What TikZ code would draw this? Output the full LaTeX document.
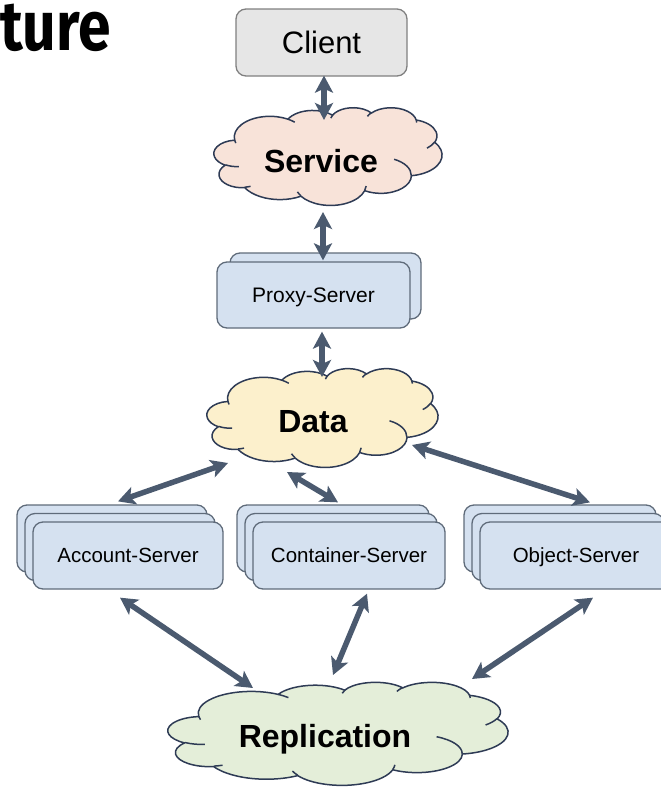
\documentclass[tikz,border=0pt]{standalone}
\usepackage{fontspec}
\setmainfont{Liberation Sans}
\newfontfamily\titlefont{Fira Sans}[FakeStretch=0.84]
\usetikzlibrary{arrows.meta,calc}

\definecolor{linkcol}{HTML}{4B5A6F}
\definecolor{cloudedge}{HTML}{2E3B55}
\definecolor{servfill}{HTML}{F8E3D9}
\definecolor{datafill}{HTML}{FCF0CC}
\definecolor{replfill}{HTML}{E4EED9}
\definecolor{boxfill}{HTML}{D5E1F0}
\definecolor{boxedge}{HTML}{5F6B7A}
\definecolor{clientfill}{HTML}{E6E6E6}
\definecolor{clientedge}{HTML}{808080}

% elliptical arc given by radii, visual start angle and sweep (degrees)
\newcommand\ooarc[4]{arc[x radius=#1, y radius=#2, start angle={ooa(#3,#1,#2)}, delta angle={oosw(#3,#4,#1,#2)}]}

% puffy cloud outline in a frame of 432 x 432 units, placed at (#1,#2) with size #3 x #4
\newcommand\puffcloud[5]{%
  \begin{scope}[shift={(#1,#2)}, x={#3/432*1pt}, y={-#4/432*1pt}]
    \filldraw[cloudstroke, fill=#5] (39,143.7)
      \ooarc{67.53}{91.90}{-190.48748}{123.78053}
      \ooarc{53.33}{72.67}{-144.10238}{89.94523}
      \ooarc{43.65}{59.45}{-145.80792}{99.72302}
      \ooarc{48.57}{65.95}{-130.98607}{117.24173}
      \ooarc{53.33}{72.73}{-78.70888}{109.02692}
      \ooarc{67.75}{92.20}{-46.26725}{130.269}
      \ooarc{57.85}{78.67}{0.62502}{114.03333}
      \ooarc{67.52}{92.15}{22.4516}{115.17255}
      \ooarc{77.20}{105.43}{66.24263}{75.71102}
      \ooarc{43.60}{59.18}{-274.94208}{146.73557}
      \ooarc{43.45}{59.45}{-246.8285}{152.51885}
      -- cycle;
    \draw[cloudstroke]
      (46.93,261.77) \ooarc{43.45}{59.45}{86.742}{26.4295}
      (69.28,348.99) \ooarc{43.60}{59.18}{73.6105}{11.4475}
      (164.78,390.90) \ooarc{67.52}{92.15}{137.6242}{14.0811}
      (288.27,347.51) \ooarc{67.52}{92.15}{6.4533}{15.9984}
      (341.29,229.54) \ooarc{57.85}{78.67}{-70.2924}{70.9174}
      (417.98,153.54) \ooarc{53.33}{72.73}{30.3180}{27.7515}
      (383.24,54.26) \ooarc{48.57}{65.95}{-13.7443}{14.8589}
      (290.78,39.52) \ooarc{48.57}{65.95}{-149.1815}{18.1954}
      (221.41,47.20) \ooarc{43.65}{59.45}{-163.4943}{17.6864}
      (140.00,51.92) \ooarc{67.53}{91.90}{-66.7070}{12.3194}
      (41.27,157.89) \ooarc{67.53}{91.90}{157.6544}{11.8582};
  \end{scope}}

\tikzset{
  declare function={
    ooa(\t,\a,\b)=atan2(\a*sin(\t),\b*cos(\t));
    oosw(\t,\s,\a,\b)=mod(ooa(\t+\s,\a,\b)-ooa(\t,\a,\b)+720,360);
  },
  cloudstroke/.style={draw=cloudedge, line width=1.5pt, line join=round},
  cloudspan/.style={inner sep=0pt, outer sep=0pt},
  cloudtext/.style={inner sep=0pt, anchor=base, font=\bfseries\fontsize{32}{38}\selectfont},
  clientbox/.style={draw=clientedge, line width=1.3pt, fill=clientfill,
    rounded corners=10pt, inner sep=0pt, text height=22pt, text depth=0pt,
    font=\fontsize{31}{36}\selectfont},
  srvbox/.style={draw=boxedge, line width=1.3pt, fill=boxfill,
    rounded corners=10pt, inner sep=0pt, minimum height=67pt,
    text height=14.7pt, text depth=0pt,
    font=\fontsize{20.5}{24}\selectfont},
  link/.style={draw=linkcol, line width=5.5pt, <->,
    >={Stealth[length=17pt,width=18pt,inset=4pt]}},
  titletext/.style={inner sep=0pt, font=\titlefont\bfseries\fontsize{70}{80}\selectfont},
}

\begin{document}
\begin{tikzpicture}[x=1pt, y=-1pt]
  \useasboundingbox (0,0) rectangle (661,788);
  \clip (0,0) rectangle (661,788);

  % heading fragment
  \node[titletext, anchor=base east] (title) at (111,50) {ture};

  % client
  \node[clientbox, minimum width=171pt, minimum height=67pt] (client) at (321.5,42.5) {Client};

  % service cloud
  \puffcloud{214}{107.4}{228}{97.7}{servfill}
  \node[cloudspan, minimum width=228pt, minimum height=92pt] (service) at (328,159) {};
  \node[cloudtext] (service-text) at (321,172) {Service};

  % proxy servers
  \node[srvbox, minimum width=191pt, minimum height=66pt] (proxy2) at (325.5,286) {};
  \node[srvbox, minimum width=193pt, minimum height=66pt, text height=15pt,
        font=\fontsize{21}{25}\selectfont] (proxy) at (313.5,295) {Proxy-Server};

  % data cloud
  \puffcloud{207}{368.3}{231}{98.8}{datafill}
  \node[cloudspan, minimum width=231pt, minimum height=93pt] (data) at (322.5,420.5) {};
  \node[cloudtext] (data-text) at (313,432) {Data};

  % storage servers
  \node[srvbox, minimum width=190pt] (acc3) at (112,538.5) {};
  \node[srvbox, minimum width=190pt] (acc2) at (120,547) {};
  \node[srvbox, minimum width=190pt] (acc) at (128,555.5) {Account-Server};

  \node[srvbox, minimum width=192pt] (cont3) at (333,538.5) {};
  \node[srvbox, minimum width=192pt] (cont2) at (341,547) {};
  \node[srvbox, minimum width=192pt] (cont) at (349,555.5) {Container-Server};

  \node[srvbox, minimum width=192pt] (obj3) at (560,538.5) {};
  \node[srvbox, minimum width=192pt] (obj2) at (568,547) {};
  \node[srvbox, minimum width=192pt] (obj) at (576,555.5) {Object-Server};

  % replication cloud
  \puffcloud{168}{682}{340}{103}{replfill}
  \node[cloudspan, minimum width=339pt, minimum height=97pt] (repl) at (337.5,736.5) {};
  \node[cloudtext] (repl-text) at (325,747) {Replication};

  % connections
  \draw[link] ($(client.south)+(2.5,-1)$) -- ($(service.north)+(-4,7)$);
  \draw[link] ($(service.south)+(-5,7)$) -- ($(proxy.north)+(9.5,-1)$);
  \draw[link] ($(proxy.south)+(8.5,3)$) -- ($(data.north)+(-0.5,3)$);
  \draw[link] ($(data.south west)+(21,-4)$) -- ($(acc3.north)+(6,-3)$);
  \draw[link] ($(data.south)+(-35.5,5)$) -- ($(cont3.north)+(5,-2)$);
  \draw[link] ($(data.east)+(-26,24.5)$) -- ($(obj3.north)+(30,-2)$);
  \draw[link] ($(acc.south)+(-8,8)$) -- ($(repl.north)+(-84.5,0)$);
  \draw[link] ($(cont.south)+(18,4)$) -- ($(repl.north)+(-4.5,-13)$);
  \draw[link] ($(obj.south)+(17,8)$) -- ($(repl.north)+(134.5,-9)$);
\end{tikzpicture}
\end{document}
